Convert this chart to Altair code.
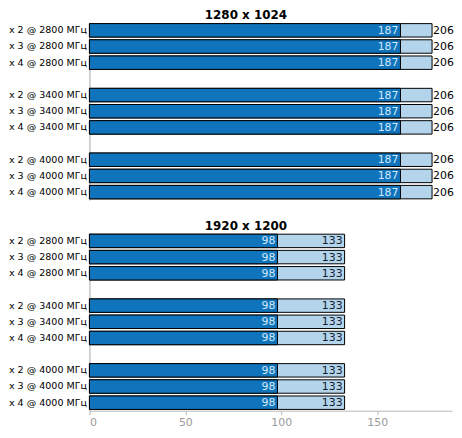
import altair as alt
import pandas as pd

configs = ["x 2 @ 2800 МГц", "x 3 @ 2800 МГц", "x 4 @ 2800 МГц",
           "x 2 @ 3400 МГц", "x 3 @ 3400 МГц", "x 4 @ 3400 МГц",
           "x 2 @ 4000 МГц", "x 3 @ 4000 МГц", "x 4 @ 4000 МГц"]
titles = ["1280 x 1024", "1920 x 1200"]
min_1280 = [187, 187, 187, 187, 187, 187, 187, 187, 187]
max_1280 = [206, 206, 206, 206, 206, 206, 206, 206, 206]
min_1920 = [98, 98, 98, 98, 98, 98, 98, 98, 98]
max_1920 = [133, 133, 133, 133, 133, 133, 133, 133, 133]
x_ticks = [0, 50, 100, 150]

row_order = configs[0:3] + [" "] + configs[3:6] + ["  "] + configs[6:9]

DARK = "#0f74bc"
LIGHT = "#b4d4ec"
FONT = "DejaVu Sans"
W = 365
H = 179


def panel(title, mins, maxs, xmax, show_axis, outside):
    df = pd.DataFrame({"config": configs, "lo": mins, "hi": maxs})
    yenc = alt.Y("config:N", sort=row_order,
                 scale=alt.Scale(domain=row_order, paddingInner=0.17, paddingOuter=0.08),
                 axis=alt.Axis(title=None, ticks=False, domainColor="#a8a8a8",
                               labelFont=FONT, labelFontSize=9.6, labelColor="#000000",
                               labelPadding=3, grid=False))
    xscale = alt.Scale(domain=[0, xmax], nice=False, zero=True)
    if show_axis:
        xaxis = alt.Axis(title=None, values=x_ticks, grid=False, domainColor="#b8b8b8",
                         tickColor="#b8b8b8", tickSize=4, labelColor="#9a9a9a",
                         labelFont=FONT, labelFontSize=11, labelPadding=2,
                         labelFlush=True, labelFlushOffset=0)
    else:
        xaxis = None
    base = alt.Chart(df)
    light = base.mark_bar(color=LIGHT, stroke="#000000", strokeWidth=1).encode(
        x=alt.X("hi:Q", scale=xscale, axis=xaxis), y=yenc)
    dark = base.mark_bar(color=DARK, stroke="#000000", strokeWidth=1).encode(
        x=alt.X("lo:Q", scale=xscale, axis=xaxis), y=yenc)
    lo_txt = base.mark_text(align="right", dx=-2, dy=0.5, color="#d4e8f8",
                            font=FONT, fontSize=11).encode(
        x=alt.X("lo:Q", scale=xscale, axis=xaxis), y=yenc, text="lo:Q")
    if outside:
        hi_txt = base.mark_text(align="left", dx=1, dy=0.5, color="#000000",
                                font=FONT, fontSize=11).encode(
            x=alt.X("hi:Q", scale=xscale, axis=xaxis), y=yenc, text="hi:Q")
    else:
        hi_txt = base.mark_text(align="right", dx=-2, dy=0.5, color="#10202c",
                                font=FONT, fontSize=11).encode(
            x=alt.X("hi:Q", scale=xscale, axis=xaxis), y=yenc, text="hi:Q")
    return alt.layer(light, dark, lo_txt, hi_txt).properties(
        width=W, height=H,
        title=alt.TitleParams(title, font=FONT, fontSize=12, fontWeight="bold",
                              color="#000000", anchor="middle", frame="group",
                              dx=-25, offset=0))


top = panel(titles[0], min_1280, max_1280, 218, False, True)
bottom = panel(titles[1], min_1920, max_1920, 189, True, False)

chart = alt.vconcat(top, bottom, spacing=20).resolve_scale(x="independent").properties(
    padding={"left": 0, "top": 0, "right": 0, "bottom": 0}
).configure_view(stroke=None)

chart.save("out.html", embed_options={"renderer": "svg", "actions": False})
